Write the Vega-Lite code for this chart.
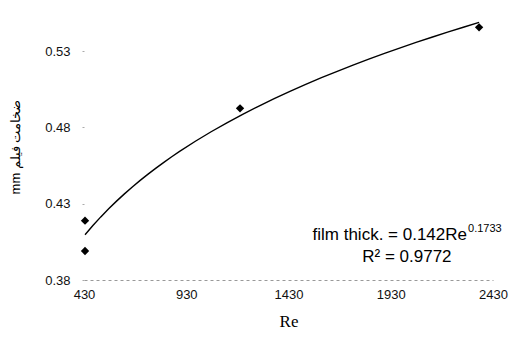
{
  "$schema": "https://vega.github.io/schema/vega-lite/v6.json",
  "autosize": {"type": "none"},
  "width": 409,
  "height": 267,
  "padding": {"left": 84, "top": 13, "right": 24, "bottom": 66},
  "background": "white",
  "config": {
    "view": {"stroke": null},
    "font": "Liberation Sans"
  },
  "datasets": {
    "pts": [
      {"Re": 435, "thick": 0.4189},
      {"Re": 435, "thick": 0.399},
      {"Re": 1193, "thick": 0.4925},
      {"Re": 2362, "thick": 0.5456}
    ],
    "notes": [
      {"Re": 2303, "thick": 0.4062, "label": "film thick. = 0.142Re", "kind": "main"},
      {"Re": 2303, "thick": 0.4062, "label": "0.1733", "kind": "sup"},
      {"Re": 2009, "thick": 0.3918, "label": "R² = 0.9772", "kind": "r2"}
    ]
  },
  "layer": [
    {
      "data": {"name": "pts"},
      "transform": [{"regression": "thick", "on": "Re", "method": "pow"}],
      "mark": {"type": "line", "color": "black", "strokeWidth": 1.4},
      "encoding": {
        "x": {"field": "Re", "type": "quantitative"},
        "y": {"field": "thick", "type": "quantitative"}
      }
    },
    {
      "data": {"name": "pts"},
      "mark": {"type": "point", "shape": "diamond", "filled": true, "color": "black", "size": 70, "opacity": 1},
      "encoding": {
        "x": {
          "field": "Re", "type": "quantitative",
          "scale": {"domain": [430, 2430], "nice": false, "zero": false},
          "axis": {
            "values": [430, 930, 1430, 1930, 2430],
            "format": "d",
            "title": "Re",
            "titleFont": "Liberation Serif",
            "titleFontSize": 17,
            "titleFontWeight": "normal",
            "titleColor": "black",
            "titlePadding": 12,
            "labelFontSize": 13,
            "labelColor": "#111",
            "labelPadding": 8,
            "labelFlush": false,
            "ticks": false,
            "grid": false,
            "domainColor": "#999",
            "domainDash": [3, 3],
            "domainWidth": 1
          }
        },
        "y": {
          "field": "thick", "type": "quantitative",
          "scale": {"domain": [0.38, 0.555], "nice": false, "zero": false},
          "axis": {
            "values": [0.38, 0.43, 0.48, 0.53],
            "format": ".2f",
            "title": "mm ضخامت فیلم",
            "titleFont": "Liberation Sans",
            "titleFontSize": 13,
            "titleFontWeight": "normal",
            "titleColor": "black",
            "titlePadding": 22,
            "labelFontSize": 13,
            "labelColor": "#111",
            "labelPadding": 12,
            "labelFlush": false,
            "ticks": true,
            "tickSize": 2,
            "tickColor": "#aaa",
            "grid": false,
            "domain": false
          }
        }
      }
    },
    {
      "data": {"name": "notes"},
      "transform": [{"filter": "datum.kind === 'main'"}],
      "mark": {"type": "text", "align": "right", "baseline": "alphabetic", "fontSize": 17, "color": "black"},
      "encoding": {
        "x": {"field": "Re", "type": "quantitative"},
        "y": {"field": "thick", "type": "quantitative"},
        "text": {"field": "label"}
      }
    },
    {
      "data": {"name": "notes"},
      "transform": [{"filter": "datum.kind === 'sup'"}],
      "mark": {"type": "text", "align": "left", "baseline": "alphabetic", "fontSize": 11, "dx": 1, "dy": -8, "color": "black"},
      "encoding": {
        "x": {"field": "Re", "type": "quantitative"},
        "y": {"field": "thick", "type": "quantitative"},
        "text": {"field": "label"}
      }
    },
    {
      "data": {"name": "notes"},
      "transform": [{"filter": "datum.kind === 'r2'"}],
      "mark": {"type": "text", "align": "center", "baseline": "alphabetic", "fontSize": 17, "color": "black"},
      "encoding": {
        "x": {"field": "Re", "type": "quantitative"},
        "y": {"field": "thick", "type": "quantitative"},
        "text": {"field": "label"}
      }
    }
  ]
}
